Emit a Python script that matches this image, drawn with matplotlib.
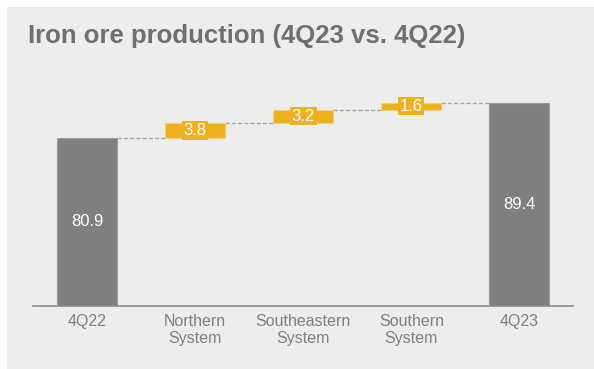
import matplotlib
matplotlib.use("Agg")
import matplotlib.pyplot as plt
from matplotlib.patches import Rectangle

categories = ["4Q22", "Northern\nSystem", "Southeastern\nSystem", "Southern\nSystem", "4Q23"]
start_value = 80.9
deltas = [3.8, 3.2, 1.6]
end_value = 89.4
y_floor = 40

BG = "#EDEDED"
GRAY = "#7F7F7F"
ORANGE = "#EDB120"
TEXT = "#7F7F7F"

plt.rcParams['font.family'] = ['Liberation Sans', 'DejaVu Sans']

fig = plt.figure(figsize=(5.94, 3.69), dpi=100, facecolor="white")
fig.patches.append(Rectangle((7/594, 0), 1, (369 - 7) / 369, transform=fig.transFigure,
                             facecolor=BG, edgecolor="none", zorder=-10))

ax = fig.add_axes([33.3/594, 63.5/369, 540/594, 245.4/369])
ax.set_facecolor("none")
ax.set_xlim(-0.5, 4.5)
ax.set_ylim(y_floor, 100)

w = 0.556
x = list(range(len(categories)))

# totals
ax.bar(x[0], start_value - y_floor, bottom=y_floor, width=w, color=GRAY,
       edgecolor="#9A9A9A", linewidth=0.8, zorder=2)
ax.bar(x[-1], end_value - y_floor, bottom=y_floor, width=w, color=GRAY,
       edgecolor="#9A9A9A", linewidth=0.8, zorder=2)
ax.text(x[0], (start_value + y_floor) / 2, f"{start_value:.1f}", ha="center", va="center",
        color="white", fontsize=12, zorder=4)
ax.text(x[-1], (end_value + y_floor) / 2, f"{end_value:.1f}", ha="center", va="center",
        color="white", fontsize=12, zorder=4)

level = start_value
prev_right = x[0] + w / 2
for i, d in enumerate(deltas):
    xi = x[i + 1]
    ax.plot([prev_right, xi - w / 2], [level, level], color="#A6A6A6", lw=1.0,
            ls=(0, (3, 1.5)), zorder=1)
    ax.bar(xi, d, bottom=level, width=w, color=ORANGE, edgecolor="#F3CF78",
           linewidth=0.8, zorder=2)
    ax.text(xi, level + d / 2, f"{d:.1f}", ha="center", va="center", color="white",
            fontsize=12, zorder=4,
            bbox=dict(boxstyle="square,pad=0.1", facecolor=ORANGE, edgecolor="none"))
    level += d
    prev_right = xi + w / 2
ax.plot([prev_right, x[-1] - w / 2], [level, level], color="#A6A6A6", lw=1.0,
        ls=(0, (3, 1.5)), zorder=1)

for s in ["top", "right", "left"]:
    ax.spines[s].set_visible(False)
ax.spines["bottom"].set_color("#8C8C8C")
ax.spines["bottom"].set_linewidth(1.2)
ax.set_yticks([])
ax.set_xticks(x)
ax.set_xticklabels(categories, fontsize=11.5, color=TEXT, linespacing=1.15)
ax.tick_params(axis="x", length=0, pad=6)

fig.text(28/594, 1 - 43/369, "Iron ore production (4Q23 vs. 4Q22)", fontsize=18.5,
         fontweight="bold", color="#6F6F6F", ha="left", va="baseline")

fig.savefig("out.png", dpi=100, facecolor="white")
